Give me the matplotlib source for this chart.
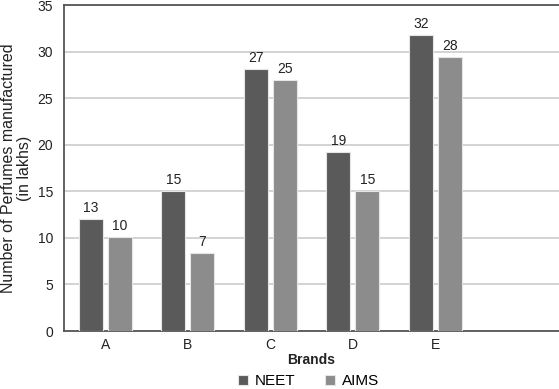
import matplotlib.pyplot as plt
import numpy as np

plt.rcParams['font.family'] = ['Liberation Sans', 'DejaVu Sans']

brands = ['A', 'B', 'C', 'D', 'E']
neet = [12.0, 15.0, 28.1, 19.2, 31.8]
aims = [10.1, 8.4, 26.9, 15.0, 29.4]
neet_labels = ['13', '15', '27', '19', '32']
aims_labels = ['10', '7', '25', '15', '28']

fig = plt.figure(figsize=(5.59, 3.89), dpi=100)
ax = fig.add_axes([0.1145, 0.149, 0.8855, 0.838])

x = np.arange(len(brands))
w = 0.29
off = 0.175
b1 = ax.bar(x - off, neet, w, color='#5a5a5a', edgecolor='#e6e6e6', linewidth=0.8, label='NEET', zorder=3)
b2 = ax.bar(x + off, aims, w, color='#8c8c8c', edgecolor='#e6e6e6', linewidth=0.8, label='AIMS', zorder=3)

for bars, labs in ((b1, neet_labels), (b2, aims_labels)):
    for r, t in zip(bars, labs):
        ax.annotate(t, (r.get_x() + r.get_width() / 2, r.get_height()),
                    xytext=(0, 3), textcoords='offset points',
                    ha='center', va='bottom', fontsize=10, color='#222222')

ax.set_xlim(-0.5, 5.5)
ax.set_ylim(0, 35)
ax.set_yticks(range(0, 36, 5))
ax.set_xticks(x)
ax.set_xticklabels(brands)
ax.tick_params(length=0, labelsize=10, colors='#222222')
ax.tick_params(axis='y', pad=8)
ax.tick_params(axis='x', pad=5)
ax.yaxis.grid(True, color='#cccccc', linewidth=1.2, zorder=0)
ax.set_axisbelow(True)

for s in ('left', 'bottom', 'top'):
    ax.spines[s].set_color('#555555')
    ax.spines[s].set_linewidth(1.3)
ax.spines['right'].set_visible(False)

ax.set_ylabel('Number of Perfumes manufactured\n(in lakhs)', fontsize=11.5, color='#222222',
              labelpad=4, linespacing=1.1)
ax.set_xlabel('Brands', fontsize=10, fontweight='bold', color='#222222', labelpad=1)

ax.legend(loc='center', bbox_to_anchor=(0.494, -0.154), ncol=2, frameon=False,
          fontsize=11, handlelength=0.65, handleheight=0.65, columnspacing=2.0,
          handletextpad=0.4, borderpad=0.1)

fig.savefig('out.png', dpi=100)
